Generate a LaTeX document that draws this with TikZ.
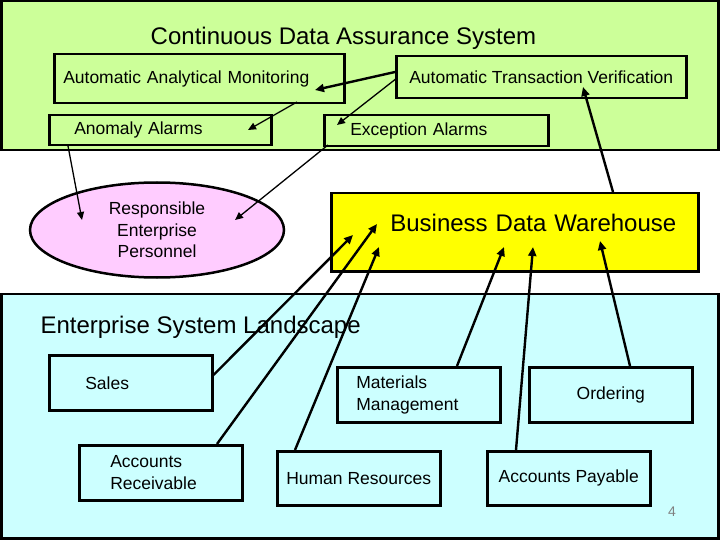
\documentclass[tikz,border=0pt]{standalone}
\usepackage{fontspec}
\setmainfont{Liberation Sans}
\usepackage{xcolor}
\usetikzlibrary{arrows.meta, calc, shapes.geometric}

\definecolor{cdagreen}{RGB}{204,255,153}
\definecolor{eslblue}{RGB}{204,255,255}
\definecolor{reppink}{RGB}{255,204,255}
\definecolor{bdwyellow}{RGB}{255,255,0}

\begin{document}
\begin{tikzpicture}[
  x=1pt, y=-1pt,
  every node/.style={font=\fontsize{17.5}{21.5}\selectfont},
  big/.style={font=\fontsize{24}{28}\selectfont},
  region/.style={draw, line width=2.5pt},
  box/.style={draw, line width=2.5pt, anchor=north west, inner ysep=0pt},
  lbox/.style={box, align=left, text width=#1},
  arr/.style={-{Triangle[length=9pt, width=8pt]}, line width=2.4pt},
  tarr/.style={-{Triangle[length=8pt, width=7pt]}, line width=1.3pt}
]
  \fill[white] (0,0) rectangle (720,540);
  \useasboundingbox (0,0) rectangle (720,540);
  \draw[region, fill=cdagreen] (1.25,1.25) rectangle (718.5,150);
  \draw[region, fill=eslblue]  (1.25,294) rectangle (718.5,538.5);

  \node[big, anchor=base] (cdas) at (343.5,45) {Continuous Data Assurance System};
  \node[lbox=272pt, inner xsep=9pt, minimum height=49pt] (aam) at (53,53)
       {Automatic Analytical Monitoring};
  \node[box, minimum width=290pt, minimum height=42pt] (atv) at (395,55)
       {Automatic Transaction Verification};
  \node[lbox=172pt, inner xsep=25pt, minimum height=30pt] (anom) at (48,114)
       {Anomaly Alarms};
  \node[lbox=172pt, inner xsep=26pt, minimum height=31pt] (exc) at (323,114)
       {Exception Alarms};

  \node[ellipse, draw, line width=2.5pt, fill=reppink, inner sep=0pt,
        minimum width=254pt, minimum height=95pt, align=center] (rep) at (157,230)
       {Responsible\\Enterprise\\Personnel};
  \node[box, big, fill=bdwyellow, align=right, text width=323pt, inner xsep=22pt,
        text height=38pt, text depth=40pt] (bdw) at (330,192)
       {Business Data Warehouse};

  \node[big, anchor=base west] (esl) at (37,333) {Enterprise System Landscape};
  \node[lbox=91pt, inner xsep=36pt, minimum height=55pt] (sales) at (48,354) {Sales};
  \node[lbox=101pt, inner xsep=31pt, minimum height=55pt] (ar) at (78,444)
       {Accounts\\Receivable};
  \node[lbox=125pt, inner xsep=19pt, minimum height=55pt] (mm) at (336,366)
       {Materials\\Management};
  \node[box, minimum width=163pt, minimum height=55pt] (ord) at (528,366) {Ordering};
  \node[box, minimum width=163pt, minimum height=54pt] (hr) at (276,450) {Human Resources};
  \node[box, minimum width=163pt, minimum height=54pt] (ap) at (486,450) {Accounts Payable};
  \node[text=gray, font=\fontsize{14}{16}\selectfont, anchor=base] (pgnum) at (672,516) {4};

  \draw[arr]  ($(atv.north west)+(0,17)$)  -- ($(aam.north west)+(262,37)$);
  \draw[tarr] ($(atv.north west)+(2,23)$)  -- ($(exc.north west)+(14,11)$);
  \draw[tarr] ($(aam.north west)+(244,49)$) -- ($(anom.north west)+(200,16)$);
  \draw[tarr] ($(anom.north west)+(20,32)$) -- ($(rep.center)+(-75,-10)$);
  \draw[tarr] ($(exc.north west)+(5,31)$)  -- ($(rep.center)+(78,-10)$);
  \draw[arr]  ($(bdw.north west)+(283,0)$) -- ($(atv.north west)+(188,32)$);
  \draw[arr]  ($(sales.north east)+(0,21)$) -- ($(bdw.north west)+(23,43)$);
  \draw[arr]  ($(ar.north west)+(139,0)$)  -- ($(bdw.north west)+(47,32)$);
  \draw[arr]  ($(hr.north west)+(19,0)$)   -- ($(bdw.north west)+(49,55)$);
  \draw[arr]  ($(mm.north west)+(121,0)$)  -- ($(bdw.north west)+(174,55)$);
  \draw[arr]  ($(ap.north west)+(30,0)$)   -- ($(bdw.north west)+(203,55)$);
  \draw[arr]  ($(ord.north west)+(102,0)$) -- ($(bdw.north west)+(270,49)$);
\end{tikzpicture}
\end{document}
